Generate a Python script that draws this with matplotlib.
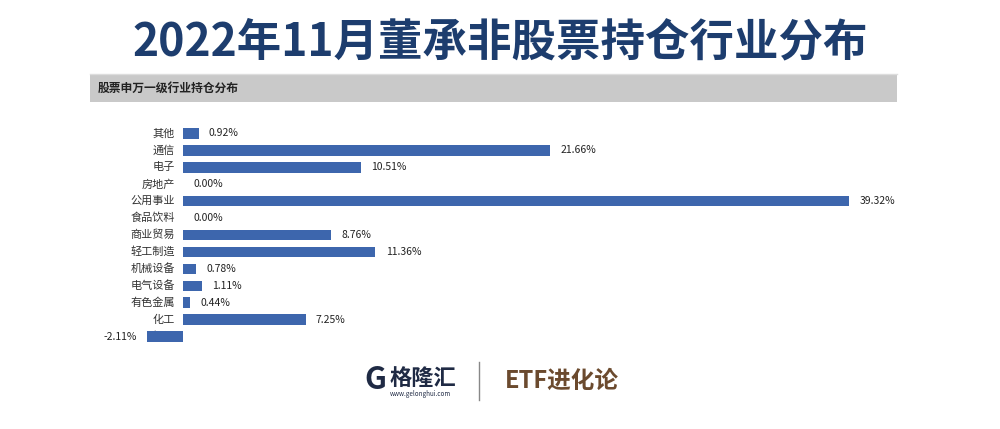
import matplotlib.pyplot as plt
import matplotlib.transforms as mtransforms

plt.rcParams['font.family'] = ['Noto Sans CJK SC', 'DejaVu Sans']

categories = ['其他', '通信', '电子', '房地产', '公用事业', '食品饮料', '商业贸易',
              '轻工制造', '机械设备', '电气设备', '有色金属', '化工', '钢铁']
values = [0.92, 21.66, 10.51, 0.00, 39.32, 0.00, 8.76, 11.36, 0.78, 1.11, 0.44, 7.25, -2.11]

W, H = 1000, 429
fig = plt.figure(figsize=(W / 100, H / 100), dpi=100)
fig.patch.set_facecolor('white')

# title
fig.text(0.5, 1 - 42 / H, '2022年11月董承非股票持仓行业分布', ha='center', va='center',
         fontsize=32, fontweight='bold', color='#1d3d6e')

# gray header band
band = fig.add_axes([90 / W, 1 - 102 / H, 807 / W, 27 / H])
band.set_facecolor('#c9c9c9')
band.set_xticks([]); band.set_yticks([])
for s in band.spines.values():
    s.set_visible(False)
band.text(0.01, 0.5, '股票申万一级行业持仓分布', transform=band.transAxes, va='center',
          fontsize=8.5, fontweight='bold', color='#222222')
fig.add_artist(plt.Line2D([90 / W, 897 / W], [1 - 74 / H] * 2, color='#dddddd', lw=1))

# bars
ax = fig.add_axes([100 / W, 1 - 345 / H, 800 / W, 220 / H])
ypos = list(range(len(categories)))
ax.barh(ypos, values, height=0.62, color='#3d66ad', zorder=3)
ax.set_xlim(-(183 - 100) / 16.94, (900 - 183) / 16.94)
ax.set_ylim(len(categories) - 0.5, -0.5)
ax.axis('off')

lab_tr = mtransforms.offset_copy(ax.transData, fig=fig, x=-8, y=0, units='dots')
for y, (c, v) in enumerate(zip(categories, values)):
    ax.text(0, y, c, transform=lab_tr, ha='right', va='center', fontsize=8,
            color='#333333', zorder=2)
    if v >= 0:
        ax.text(v + 0.6, y, f'{v:.2f}%', ha='left', va='center', fontsize=7.5, color='#222222')
    else:
        ax.text(v - 0.6, y, f'{v:.2f}%', ha='right', va='center', fontsize=7.5, color='#222222')

# footer logos
fig.text(375 / W, 1 - 380 / H, 'G', ha='center', va='center', fontsize=22,
         fontweight='bold', color='#1f2a44')
fig.text(390 / W, 1 - 378 / H, '格隆汇', ha='left', va='center', fontsize=16,
         fontweight='bold', color='#1f2a44')
fig.text(390 / W, 1 - 394 / H, 'www.gelonghui.com', ha='left', va='center', fontsize=4.5,
         color='#1f2a44')
fig.add_artist(plt.Line2D([479 / W] * 2, [1 - 362 / H, 1 - 400 / H], color='#888888', lw=1))
fig.text(505 / W, 1 - 381 / H, 'ETF进化论', ha='left', va='center', fontsize=17,
         fontweight='bold', color='#6b4a2e')

fig.savefig('out.png', dpi=100)
